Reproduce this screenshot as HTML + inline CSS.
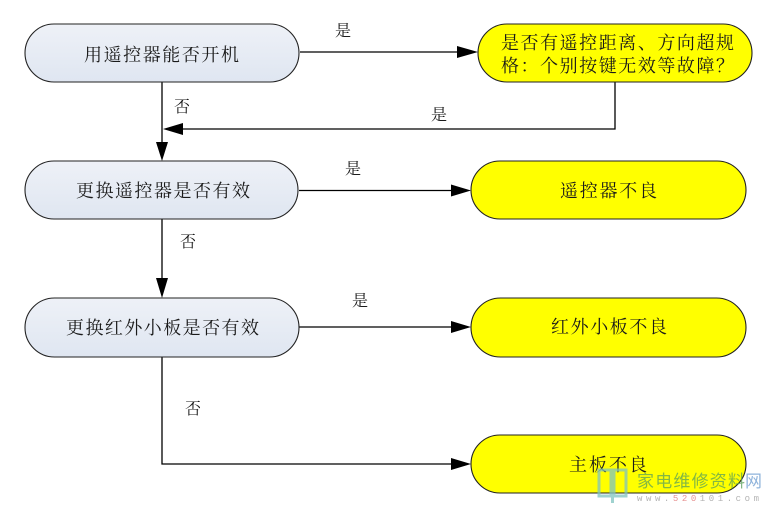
<!DOCTYPE html>
<html>
<head>
<meta charset="utf-8">
<style>
  html,body{margin:0;padding:0;background:#fff;}
  svg{display:block;}
  .t{font-family:"Liberation Serif","Noto Serif CJK SC",serif;font-size:18px;fill:#1a1a1a;}
  .l{font-family:"Liberation Serif","Noto Serif CJK SC",serif;font-size:16px;fill:#1a1a1a;}
</style>
</head>
<body>
<svg width="769" height="508" viewBox="0 0 769 508" xmlns="http://www.w3.org/2000/svg">
  <defs>
    <linearGradient id="g" x1="0" y1="0" x2="0" y2="1">
      <stop offset="0" stop-color="#eef1f7"/>
      <stop offset="1" stop-color="#dfe6f1"/>
    </linearGradient>
  </defs>
  <rect width="769" height="508" fill="#fff"/>

  <!-- connectors -->
  <g stroke="#000" stroke-width="1.3" fill="none">
    <line x1="162" y1="82" x2="162" y2="143"/>
    <line x1="300" y1="52" x2="458" y2="52"/>
    <polyline points="615,82 615,129 182,129"/>
    <line x1="299" y1="190.5" x2="452" y2="190.5"/>
    <line x1="162" y1="219" x2="162" y2="279"/>
    <line x1="299" y1="327" x2="452" y2="327"/>
    <polyline points="162,357 162,464 452,464"/>
  </g>
  <g fill="#000">
    <polygon points="162,161 156,142 168,142"/>
    <polygon points="478,52 457,46 457,58"/>
    <polygon points="163,129 183,123 183,135"/>
    <polygon points="471,190.5 451,184.5 451,196.5"/>
    <polygon points="162,298 156,278 168,278"/>
    <polygon points="471,327 451,321 451,333"/>
    <polygon points="471,464 451,458 451,470"/>
  </g>

  <!-- left nodes -->
  <g stroke="#222" stroke-width="1.1" fill="url(#g)">
    <rect x="25" y="24" width="274" height="58" rx="29" ry="29"/>
    <rect x="25" y="161" width="273" height="58" rx="29" ry="29"/>
    <rect x="25" y="298" width="274" height="59" rx="29.5" ry="29.5"/>
  </g>
  <!-- right nodes -->
  <g stroke="#222" stroke-width="1.1" fill="#ffff00">
    <rect x="478" y="24" width="274" height="58" rx="29" ry="29"/>
    <rect x="471" y="161" width="275" height="58" rx="29" ry="29"/>
    <rect x="471" y="298" width="275" height="59" rx="29.5" ry="29.5"/>
    <rect x="471" y="435" width="275" height="58" rx="29" ry="29"/>
  </g>

  <!-- node texts -->
  <text class="t" x="84" y="61" textLength="155" lengthAdjust="spacing">用遥控器能否开机</text>
  <text class="t" x="76" y="197" textLength="174" lengthAdjust="spacing">更换遥控器是否有效</text>
  <text class="t" x="66" y="334" textLength="193" lengthAdjust="spacing">更换红外小板是否有效</text>

  <text class="t" x="501" y="49" textLength="233" lengthAdjust="spacing">是否有遥控距离、方向超规</text>
  <text class="t" x="501" y="72" textLength="233" lengthAdjust="spacing">格：个别按键无效等故障？</text>
  <text class="t" x="560" y="197" textLength="97" lengthAdjust="spacing">遥控器不良</text>
  <text class="t" x="551" y="333" textLength="116" lengthAdjust="spacing">红外小板不良</text>
  <text class="t" x="569" y="471" textLength="78" lengthAdjust="spacing">主板不良</text>

  <!-- connector labels -->
  <text class="l" x="335" y="36">是</text>
  <text class="l" x="174" y="112">否</text>
  <text class="l" x="431" y="120">是</text>
  <text class="l" x="345" y="174">是</text>
  <text class="l" x="180" y="247">否</text>
  <text class="l" x="352" y="306">是</text>
  <text class="l" x="185" y="414">否</text>

  <!-- watermark -->
  <g opacity="0.75">
    <g fill="none" stroke="#7fc4c0" stroke-width="3">
      <rect x="599" y="470" width="12" height="26"/>
      <rect x="614" y="470" width="12" height="26"/>
    </g>
    <line x1="612.5" y1="496" x2="612.5" y2="503" stroke="#7fc4c0" stroke-width="3"/>
    <text x="637" y="487" font-family="'Noto Sans CJK SC',sans-serif" font-size="17" fill="#5aa05a" textLength="108" lengthAdjust="spacing">家电维修资料</text>
    <text x="745" y="487" font-family="'Noto Sans CJK SC',sans-serif" font-size="17" fill="#6a9ad0">网</text>
    <text x="637" y="501" font-family="'Liberation Mono',monospace" font-size="9" fill="#9a9a9a" textLength="122" lengthAdjust="spacing">www.<tspan fill="#e07070">520</tspan>101.com</text>
  </g>
</svg>
</body>
</html>
